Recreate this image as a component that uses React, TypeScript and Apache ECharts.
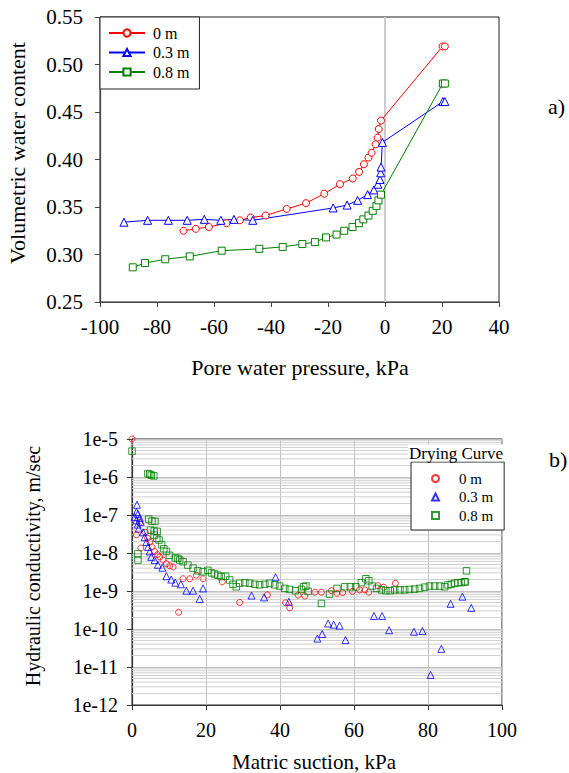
import React, { useEffect, useRef } from "react";
import * as echarts from "echarts";

const SERIF = "Liberation Serif";

// ---------- shared ----------
const seriesNames = ["0 m", "0.3 m", "0.8 m"];
const seriesColors = ["#ff0000", "#0000ff", "#008000"];

// ---------- a) water retention ----------
const pressure0m = [-70.7, -66.4, -61.8, -55.6, -50.9, -47.1, -41.9, -34.5, -27.7, -21.3, -15.8, -11.3, -9.1, -7.4, -5.8, -4.7, -3.3, -2.6, -2.2, -1.4, 20.2, 21.0];
const theta0m = [0.325, 0.327, 0.329, 0.333, 0.336, 0.339, 0.341, 0.348, 0.354, 0.364, 0.374, 0.38, 0.387, 0.395, 0.402, 0.407, 0.416, 0.423, 0.432, 0.441, 0.519, 0.519];

const pressure03m = [-91.6, -83.3, -76.0, -69.4, -63.4, -57.6, -53.0, -46.4, -18.2, -13.3, -9.6, -6.1, -3.9, -2.5, -1.75, -1.5, -1.4, -0.9, 20.3, 21.0];
const theta03m = [0.334, 0.336, 0.336, 0.336, 0.337, 0.336, 0.337, 0.336, 0.349, 0.352, 0.357, 0.363, 0.368, 0.374, 0.379, 0.386, 0.392, 0.418, 0.461, 0.461];

const pressure08m = [-88.5, -84.2, -77.1, -68.5, -57.3, -44.1, -35.9, -29.0, -24.6, -20.7, -17.0, -14.3, -11.4, -9.1, -7.6, -5.8, -4.3, -3.0, -2.3, -1.4, 20.3, 21.0];
const theta08m = [0.2865, 0.291, 0.295, 0.298, 0.304, 0.306, 0.308, 0.311, 0.313, 0.318, 0.321, 0.325, 0.329, 0.333, 0.337, 0.341, 0.346, 0.351, 0.357, 0.363, 0.48, 0.48];

// ---------- b) hydraulic conductivity ----------
const suction0m = [0, 1.2, 2.1, 2.35, 3.6, 4.2, 4.8, 5.4, 6.1, 6.9, 7.5, 8.4, 9.3, 10.2, 11.1, 12.6, 13.8, 15.6, 17.4, 19.2, 24.4, 29.1, 36.6, 41.5, 42.6, 44.9, 46.7, 49.4, 51.2, 53.9, 55.4, 56.9, 59.6, 61.5, 62.9, 64.0, 66.5, 68.0, 71.2];
const k0m = [1.0e-5, 3.0e-8, 6.3e-8, 1.35e-8, 3.5e-8, 2.45e-8, 1.95e-8, 1.45e-8, 1.1e-8, 9.1e-9, 7.9e-9, 6.5e-9, 5.2e-9, 4.6e-9, 4.3e-9, 2.75e-10, 2.1e-9, 2.1e-9, 2.6e-9, 2.1e-9, 1.75e-9, 5.0e-10, 7.9e-10, 4.9e-10, 3.6e-10, 7.8e-10, 7.4e-10, 9.3e-10, 9.3e-10, 1.02e-9, 8.7e-10, 9.1e-10, 9.8e-10, 1.07e-9, 1.07e-9, 9.3e-10, 1.38e-9, 1.26e-9, 1.6e-9];

const suction03m = [0.7, 1.2, 1.35, 1.6, 2.1, 1.2, 2.35, 1.5, 1.8, 3.0, 3.4, 3.9, 4.3, 4.8, 5.2, 6.1, 7.0, 8.2, 9.3, 10.6, 11.7, 13.2, 14.7, 16.5, 18.3, 19.2, 32.3, 35.7, 38.8, 42.4, 50.1, 51.4, 53.0, 54.5, 56.1, 57.7, 65.4, 67.6, 69.5, 76.2, 78.5, 80.7, 83.6, 86.1, 89.3, 91.7];
const k03m = [8.9e-8, 1.2e-7, 1.86e-7, 1.07e-7, 8.3e-8, 7.2e-8, 6.6e-8, 5.6e-8, 4.4e-8, 3.5e-8, 2.6e-8, 1.95e-8, 1.45e-8, 1.1e-8, 7.9e-9, 6.5e-9, 4.9e-9, 4.1e-9, 2.45e-9, 2.0e-9, 1.66e-9, 1.5e-9, 1.02e-9, 1.02e-9, 6.2e-10, 1.17e-9, 7.6e-10, 6.8e-10, 2.3e-9, 5.2e-10, 5.6e-11, 7.4e-11, 1.4e-10, 1.3e-10, 1.23e-10, 5.1e-11, 2.2e-10, 2.2e-10, 9.3e-11, 8.5e-11, 8.9e-11, 6.2e-12, 3.0e-11, 4.6e-10, 7.1e-10, 3.6e-10];

const suction08m = [0, 1.6, 1.6, 4.3, 4.8, 5.2, 5.9, 4.5, 5.4, 6.2, 5.0, 6.0, 6.8, 6.0, 6.7, 7.3, 8.0, 8.6, 9.3, 10.1, 11.7, 12.4, 12.9, 13.8, 15.1, 16.5, 17.8, 19.2, 20.5, 21.5, 22.3, 23.2, 24.1, 25.3, 26.4, 27.3, 28.2, 29.1, 30.5, 31.8, 33.2, 34.5, 35.9, 37.2, 38.6, 39.9, 41.3, 42.6, 44.2, 45.8, 46.4, 47.0, 47.6, 51.2, 53.4, 55.4, 57.5, 59.0, 60.5, 62.0, 63.2, 64.0, 64.9, 66.1, 67.4, 68.6, 69.8, 71.0, 72.4, 73.7, 75.0, 76.4, 77.7, 79.1, 80.4, 81.8, 83.2, 84.5, 85.4, 86.3, 87.2, 88.1, 89.0, 89.9, 90.1, 90.4];
const k08m = [4.8e-6, 9.5e-9, 6.5e-9, 1.23e-6, 1.18e-6, 1.12e-6, 1.07e-6, 7.8e-8, 6.9e-8, 6.8e-8, 4.0e-8, 3.8e-8, 3.7e-8, 2.95e-8, 2.45e-8, 2.2e-8, 1.66e-8, 1.29e-8, 1.1e-8, 8.7e-9, 7.4e-9, 7.2e-9, 6.5e-9, 5.9e-9, 4.8e-9, 4.0e-9, 3.4e-9, 3.2e-9, 3.5e-9, 3.0e-9, 2.8e-9, 2.6e-9, 2.4e-9, 2.45e-9, 1.95e-9, 1.5e-9, 1.29e-9, 1.6e-9, 1.66e-9, 1.6e-9, 1.5e-9, 1.45e-9, 1.5e-9, 1.6e-9, 1.45e-9, 1.35e-9, 1.17e-9, 1.1e-9, 1.02e-9, 1.1e-9, 1.29e-9, 1.35e-9, 9.8e-10, 4.7e-10, 8.3e-10, 1.17e-9, 1.29e-9, 1.29e-9, 1.29e-9, 1.66e-9, 2.1e-9, 1.86e-9, 1.35e-9, 1.17e-9, 1.07e-9, 1.02e-9, 1.02e-9, 1.07e-9, 1.07e-9, 1.07e-9, 1.1e-9, 1.12e-9, 1.17e-9, 1.26e-9, 1.35e-9, 1.35e-9, 1.35e-9, 1.29e-9, 1.45e-9, 1.5e-9, 1.6e-9, 1.66e-9, 1.66e-9, 1.74e-9, 1.74e-9, 3.4e-9];

// log-axis gridline positions (minor lines inside each decade)
const decadeExponents = [-12, -11, -10, -9, -8, -7, -6];
const minorMantissas = [2, 3, 4, 5, 6, 7, 8, 9];

const pairs = (xs: number[], ys: number[]) => xs.map((x, i) => [x, ys[i]]);

function buildTopOption(): any {
  const lineSymbols = ["circle", "triangle", "rect"];
  const lineSizes = [7, 8, 7];
  const xs = [pressure0m, pressure03m, pressure08m];
  const ys = [theta0m, theta03m, theta08m];
  const axisColor = "#444";
  return {
    animation: false,
    textStyle: { fontFamily: SERIF },
    grid: { left: 100, top: 17, width: 399, height: 285, show: true, borderColor: "#222", borderWidth: 1 },
    xAxis: {
      type: "value", min: -100, max: 40, interval: 20,
      axisLine: { show: true, onZero: false, lineStyle: { color: axisColor, width: 1.2 } },
      axisTick: { show: true, inside: false, length: 5, lineStyle: { color: axisColor } },
      axisLabel: { color: "#000", fontSize: 21, fontFamily: SERIF, margin: 14 },
      splitLine: { show: false },
    },
    yAxis: {
      type: "value", min: 0.25, max: 0.55, interval: 0.05,
      axisLine: { show: true, onZero: false, lineStyle: { color: axisColor, width: 1.2 } },
      axisTick: { show: true, inside: false, length: 5, lineStyle: { color: axisColor } },
      axisLabel: { color: "#000", fontSize: 21, fontFamily: SERIF, margin: 17, formatter: (v: number) => v.toFixed(2) },
      splitLine: { show: false },
    },
    legend: {
      orient: "vertical", left: 100, top: 17,
      data: seriesNames,
      itemWidth: 36, itemHeight: 9, itemGap: 3.5,
      padding: [8, 10, 9, 8],
      borderColor: "#222", borderWidth: 1, backgroundColor: "#fff",
      textStyle: { fontSize: 16, fontFamily: SERIF, color: "#000", padding: [0, 0, 0, 3] },
    },
    series: [
      {
        type: "scatter", name: "", data: [], z: 1, silent: true,
        markLine: {
          silent: true, z: 1, symbol: ["none", "none"], label: { show: false },
          lineStyle: { color: "#cccccc", width: 2, type: "solid" },
          data: [{ xAxis: 0 }],
        },
      },
      ...seriesNames.map((name, i) => ({
        type: "line", name, data: pairs(xs[i], ys[i]),
        symbol: lineSymbols[i], symbolSize: lineSizes[i],
        lineStyle: { color: seriesColors[i], width: 1 },
        itemStyle: { color: "#fff", borderColor: seriesColors[i], borderWidth: 1 },
        z: 3,
      })),
    ],
    graphic: [
      { type: "text", x: 17, y: 153, rotation: Math.PI / 2, style: { text: "Volumetric water content", fontSize: 22, fontFamily: SERIF, fill: "#000", align: "center", verticalAlign: "middle" } },
      { type: "text", x: 300, y: 367, style: { text: "Pore water pressure, kPa", fontSize: 22, fontFamily: SERIF, fill: "#000", align: "center", verticalAlign: "middle" } },
      { type: "text", x: 548, y: 106, style: { text: "a)", fontSize: 22, fontFamily: SERIF, fill: "#000", align: "left", verticalAlign: "middle" } },
    ],
  };
}

function buildBottomOption(): any {
  const symbols = ["circle", "triangle", "rect"];
  const sizes = [6, 7, 6.5];
  const xs = [suction0m, suction03m, suction08m];
  const ys = [k0m, k03m, k08m];
  const axisColor = "#333";
  const minorLines: number[][] = [];
  decadeExponents.forEach((e) => minorMantissas.forEach((m) => minorLines.push([0, m * Math.pow(10, e)])));
  return {
    animation: false,
    textStyle: { fontFamily: SERIF },
    grid: { left: 132, top: 44, width: 370, height: 266, show: true, borderColor: "#222", borderWidth: 1 },
    xAxis: {
      type: "value", min: 0, max: 100, interval: 20,
      axisLine: { show: true, onZero: false, lineStyle: { color: axisColor, width: 1.2 } },
      axisTick: { show: true, inside: false, length: 5, lineStyle: { color: axisColor } },
      axisLabel: { color: "#000", fontSize: 20, fontFamily: SERIF, margin: 15 },
      splitLine: { show: true, lineStyle: { color: "#c0c0c0", width: 1 } },
    },
    yAxis: {
      type: "log", logBase: 10, min: 1e-12, max: 1e-5, splitNumber: 7,
      axisLine: { show: true, onZero: false, lineStyle: { color: axisColor, width: 1.2 } },
      axisTick: { show: true, inside: false, length: 5, lineStyle: { color: axisColor } },
      axisLabel: { color: "#000", fontSize: 20, fontFamily: SERIF, margin: 14, formatter: (v: number) => "1e" + Math.round(Math.log10(v)) },
      splitLine: { show: true, lineStyle: { color: "#c0c0c0", width: 1 } },
    },
    legend: {
      orient: "vertical", left: 411, top: 67,
      data: seriesNames,
      itemWidth: 7, itemHeight: 7, itemGap: 3.5,
      padding: [9, 11, 7, 20],
      borderColor: "#222", borderWidth: 1, backgroundColor: "#fff",
      textStyle: { fontSize: 15, fontFamily: SERIF, color: "#000", padding: [0, 0, 0, 15] },
    },
    series: [
      {
        type: "custom", name: "", silent: true, z: 1,
        data: minorLines,
        encode: { x: 0, y: 1 },
        clip: true,
        renderItem: (params: any, api: any) => {
          const cs = params.coordSys;
          const p = api.coord([api.value(0), api.value(1)]);
          return {
            type: "line",
            shape: { x1: cs.x, y1: p[1], x2: cs.x + cs.width, y2: p[1] },
            style: { stroke: "#cfcfcf", lineWidth: 1 },
            silent: true,
          };
        },
      },
      ...seriesNames.map((name, i) => ({
        type: "scatter", name, data: pairs(xs[i], ys[i]),
        symbol: symbols[i], symbolSize: sizes[i],
        itemStyle: { color: "transparent", borderColor: seriesColors[i], borderWidth: 1 },
        z: 3,
      })),
    ],
    graphic: [
      { type: "text", x: 33, y: 171, rotation: Math.PI / 2, style: { text: "Hydraulic conductivity, m/sec", fontSize: 20, fontFamily: SERIF, fill: "#000", align: "center", verticalAlign: "middle" } },
      { type: "text", x: 314, y: 367, style: { text: "Matric suction, kPa", fontSize: 21, fontFamily: SERIF, fill: "#000", align: "center", verticalAlign: "middle" } },
      { type: "text", x: 549, y: 64, style: { text: "b)", fontSize: 22, fontFamily: SERIF, fill: "#000", align: "left", verticalAlign: "middle" } },
      { type: "text", x: 456, y: 58, z: 10, style: { text: "Drying Curve", fontSize: 17, fontFamily: SERIF, fill: "#000", align: "center", verticalAlign: "middle", backgroundColor: "#fff", padding: [0, 1] } },
    ],
  };
}

function Chart({ top, height, build }: { top: number; height: number; build: () => any }) {
  const ref = useRef<HTMLDivElement>(null);
  useEffect(() => {
    if (!ref.current) return;
    const chart = echarts.init(ref.current, null, { renderer: "svg" });
    chart.setOption(build());
    return () => chart.dispose();
  }, [build]);
  return <div ref={ref} style={{ position: "absolute", left: 0, top, width: 569, height }} />;
}

export default function App() {
  return (
    <div style={{ position: "absolute", left: 0, top: 0, width: 569, height: 773, background: "#fff" }}>
      <Chart top={0} height={395} build={buildTopOption} />
      <Chart top={395} height={378} build={buildBottomOption} />
    </div>
  );
}
